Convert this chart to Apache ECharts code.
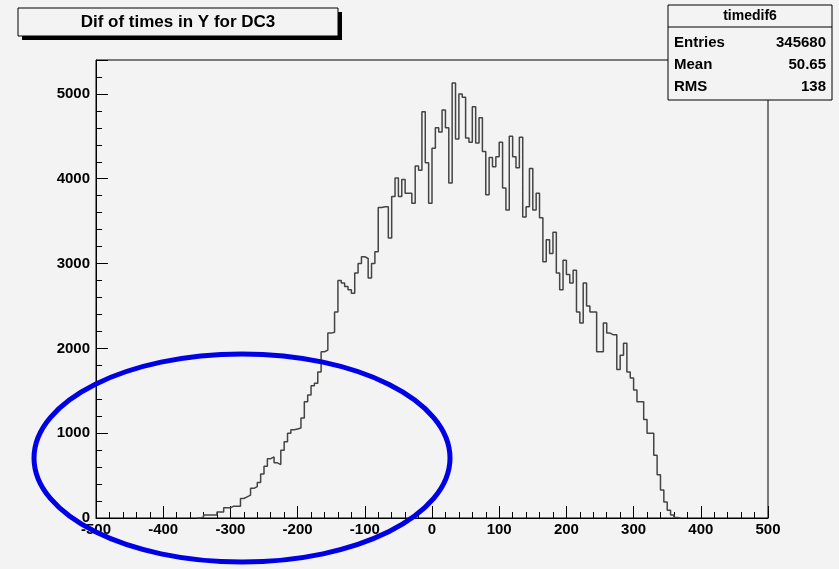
<!DOCTYPE html>
<html><head><meta charset="utf-8">
<script src="https://cdn.jsdelivr.net/npm/echarts@6/dist/echarts.min.js"></script>
<style>html,body{margin:0;padding:0;background:#f3f3f3}#c{width:839px;height:569px}</style>
</head><body><div id="c"></div>
<script>
const binStart = -350;
const binWidth = 5;
const counts = [
0,10,35,35,35,35,70,70,120,120,140,140,140,230,250,270,350,370,420,520,610,700,720,650,630,800,900,1000,1040,1050,1060,1180,1370,1450,1560,1590,1720,1960,1980,2180,2190,2430,2800,2770,2730,2690,2650,2890,3000,3080,3060,2830,3000,3140,
3660,3670,3670,3300,3790,4010,3790,3990,3830,3830,3710,4150,4100,4790,4190,3710,4360,4600,4550,4810,4600,3950,5130,4470,5000,4960,4480,4430,4850,4420,4720,4320,3810,4250,4140,4260,4430,3890,3630,4500,4260,4130,4490,3550,3670,4120,3630,3830,
3540,3020,3280,3120,3370,2890,2690,3040,2870,2770,2920,2430,2300,2770,2500,2430,2430,1960,1960,2300,2180,2160,2160,1750,1920,2060,1720,1650,1510,1370,1370,1160,1000,1000,740,510,330,190,90,35,5,0
];
const xTicks = [-500,-400,-300,-200,-100,0,100,200,300,400,500];
const yTicks = [0,1000,2000,3000,4000,5000];
const titleText = 'Dif of times in Y for DC3';
const statsName = 'timedif6';
const statsRows = [['Entries','345680'],['Mean','50.65'],['RMS','138']];

const pts = counts.map((v,i)=>[binStart+i*binWidth, v]);
pts.push([binStart+counts.length*binWidth, 0]);

const chart = echarts.init(document.getElementById('c'));
const lbl = {color:'#000',fontFamily:'Liberation Sans',fontWeight:'bold',fontSize:15,formatter:v=>String(v)};
const statsG = [];
statsG.push({type:'rect',shape:{x:668,y:5,width:164,height:95},style:{fill:'#f3f3f3',stroke:'#000',lineWidth:1}});
statsG.push({type:'line',shape:{x1:668,y1:27,x2:832,y2:27},style:{stroke:'#000',lineWidth:1}});
statsG.push({type:'text',x:750,y:16,style:{text:statsName,align:'center',verticalAlign:'middle',font:'bold 14px "Liberation Sans"',fill:'#000'}});
statsRows.forEach((r,i)=>{
  statsG.push({type:'text',x:674,y:43+i*22,style:{text:r[0],verticalAlign:'middle',font:'bold 15px "Liberation Sans"',fill:'#000'}});
  statsG.push({type:'text',x:826,y:43+i*22,style:{text:r[1],align:'right',verticalAlign:'middle',font:'bold 15px "Liberation Sans"',fill:'#000'}});
});
chart.setOption({
  backgroundColor:'#f3f3f3',
  animation:false,
  grid:{left:96,right:71,top:60,bottom:51,show:true,borderColor:'#000',borderWidth:1,backgroundColor:'#f3f3f3'},
  xAxis:{type:'value',min:-500,max:500,interval:100,
    axisLine:{onZero:false,lineStyle:{color:'#000'}},
    axisTick:{inside:true,length:12,lineStyle:{color:'#000'}},
    minorTick:{show:true,splitNumber:5,length:6,lineStyle:{color:'#000'}},
    axisLabel:Object.assign({margin:4,customValues:xTicks},lbl),
    splitLine:{show:false}},
  yAxis:{type:'value',min:0,max:5400,interval:1000,
    axisLine:{show:true,onZero:false,lineStyle:{color:'#000'}},
    axisTick:{inside:true,length:12,lineStyle:{color:'#000'}},
    minorTick:{show:true,splitNumber:5,length:6,lineStyle:{color:'#000'}},
    axisLabel:Object.assign({margin:6,customValues:yTicks},lbl),
    splitLine:{show:false}},
  series:[{type:'line',step:'end',data:pts,symbol:'none',
    lineStyle:{color:'#444',width:1.5}}],
  graphic:[
    {type:'rect',shape:{x:22,y:12,width:320,height:28},style:{fill:'#000'}},
    {type:'rect',shape:{x:18,y:8,width:320,height:28},style:{fill:'#f3f3f3',stroke:'#000',lineWidth:1}},
    {type:'text',x:178,y:22,style:{text:titleText,align:'center',verticalAlign:'middle',font:'bold 17px "Liberation Sans"',fill:'#000'}},
    ...statsG,
    {type:'ellipse',shape:{cx:242,cy:458,rx:208,ry:104},style:{fill:'none',stroke:'#0000e6',lineWidth:5},z:100}
  ]
});
</script></body></html>
